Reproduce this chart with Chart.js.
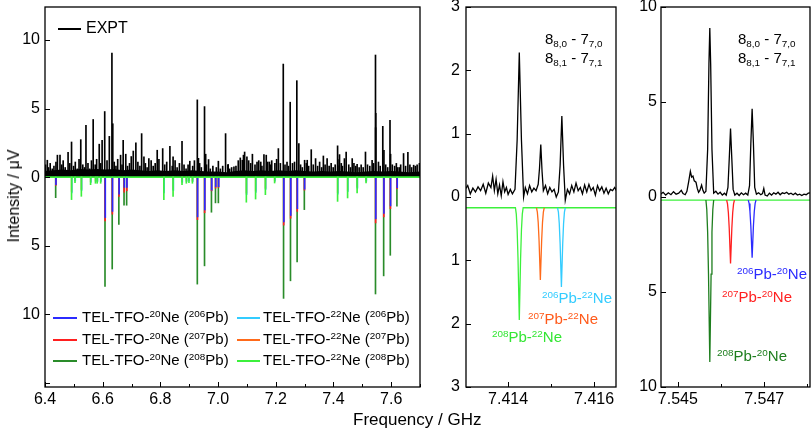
<!DOCTYPE html>
<html>
<head>
<meta charset="utf-8">
<script src="https://cdn.jsdelivr.net/npm/chart.js@4.4.1/dist/chart.umd.min.js"></script>
<style>
  body { margin: 0; background: #fff; }
  #wrap { position: relative; width: 812px; height: 432px; overflow: hidden; font-family: "Liberation Sans", Arial, sans-serif; color: #000; }
  #wrap canvas { position: absolute; top: 0; }
  .t { position: absolute; white-space: nowrap; font-size: 16px; line-height: 18px; }
  .t sup { font-size: 0.66em; vertical-align: 0.55em; line-height: 0; }
  .t sub { font-size: 0.66em; vertical-align: -0.3em; line-height: 0; }
  .iso { font-size: 15px; }
  .key { position: absolute; height: 1.5px; }
</style>
</head>
<body>
<div id="wrap">
  <canvas id="left" width="422" height="432" style="left:0px"></canvas>
  <canvas id="mid" width="188" height="432" style="left:430px"></canvas>
  <canvas id="right" width="192" height="432" style="left:620px"></canvas>

  <div class="t" style="left:14px;top:196px;width:0;height:0;">
    <span style="position:absolute;left:0;top:0;transform:translate(-50%,-50%) rotate(-90deg);">Intensity / &mu;V</span>
  </div>
  <div class="t" style="left:353px;top:411px;font-size:17px;">Frequency / GHz</div>

  <div class="key" style="left:58px;top:28px;width:23px;background:#000"></div>
  <div class="t" style="left:86px;top:19px;">EXPT</div>

  <div class="key" style="left:53px;top:317px;width:24px;background:#2b2bff"></div>
  <div class="t" style="left:82px;top:308px;font-size:15px;">TEL-TFO-<sup>20</sup>Ne (<sup>206</sup>Pb)</div>
  <div class="key" style="left:53px;top:339px;width:24px;background:#ff1f1f"></div>
  <div class="t" style="left:82px;top:330px;font-size:15px;">TEL-TFO-<sup>20</sup>Ne (<sup>207</sup>Pb)</div>
  <div class="key" style="left:53px;top:360px;width:24px;background:#2a8c2a"></div>
  <div class="t" style="left:82px;top:351px;font-size:15px;">TEL-TFO-<sup>20</sup>Ne (<sup>208</sup>Pb)</div>
  <div class="key" style="left:237px;top:317px;width:23px;background:#33ccff"></div>
  <div class="t" style="left:263px;top:308px;font-size:15px;">TEL-TFO-<sup>22</sup>Ne (<sup>206</sup>Pb)</div>
  <div class="key" style="left:237px;top:339px;width:23px;background:#ff6a1a"></div>
  <div class="t" style="left:263px;top:330px;font-size:15px;">TEL-TFO-<sup>22</sup>Ne (<sup>207</sup>Pb)</div>
  <div class="key" style="left:237px;top:360px;width:23px;background:#3cf03c"></div>
  <div class="t" style="left:263px;top:351px;font-size:15px;">TEL-TFO-<sup>22</sup>Ne (<sup>208</sup>Pb)</div>

  <div class="t" style="left:545px;top:30px;font-size:15px;">8<sub>8,0</sub> - 7<sub>7,0</sub></div>
  <div class="t" style="left:545px;top:49px;font-size:15px;">8<sub>8,1</sub> - 7<sub>7,1</sub></div>
  <div class="t" style="left:738px;top:30px;font-size:15px;">8<sub>8,0</sub> - 7<sub>7,0</sub></div>
  <div class="t" style="left:738px;top:49px;font-size:15px;">8<sub>8,1</sub> - 7<sub>7,1</sub></div>

  <div class="t iso" style="left:542px;top:289px;color:#33ccff"><sup>206</sup>Pb-<sup>22</sup>Ne</div>
  <div class="t iso" style="left:528px;top:310px;color:#ff5a1a"><sup>207</sup>Pb-<sup>22</sup>Ne</div>
  <div class="t iso" style="left:492px;top:328px;color:#33e633"><sup>208</sup>Pb-<sup>22</sup>Ne</div>

  <div class="t iso" style="left:737px;top:265px;color:#2b2bff"><sup>206</sup>Pb-<sup>20</sup>Ne</div>
  <div class="t iso" style="left:722px;top:288px;color:#ff1f1f"><sup>207</sup>Pb-<sup>20</sup>Ne</div>
  <div class="t iso" style="left:717px;top:347px;color:#1e7e1e"><sup>208</sup>Pb-<sup>20</sup>Ne</div>
</div>

<script>
// ---- overview panel: experimental lines [GHz, uV] ----
const exptLeftPeaks = [[6.408,1.23],[6.443,1.6],[6.452,1.6],[6.480,1.8],[6.492,2.56],[6.524,2.73],[6.542,3.77],[6.567,4.2],[6.588,2.4],[6.598,2.68],[6.607,4.78],[6.623,2.97],[6.632,9.04],[6.635,3.89],[6.662,1.6],[6.671,2.68],[6.680,1.67],[6.706,1.9],[6.715,2.5],[6.735,3.17],[6.743,1.47],[6.760,1.35],[6.789,1.96],[6.808,2.08],[6.833,2.25],[6.844,1.47],[6.875,2.6],[6.902,1.16],[6.928,5.63],[6.932,1.37],[6.953,5.14],[6.957,1.67],[6.967,1.28],[7.001,1.16],[7.026,3.17],[7.035,0.92],[7.055,0.75],[7.084,1.23],[7.092,1.83],[7.100,1.47],[7.119,1.67],[7.135,1.1],[7.148,1.1],[7.159,1.64],[7.167,1.6],[7.178,1.1],[7.197,1.0],[7.209,2.08],[7.226,8.24],[7.250,5.46],[7.273,7.03],[7.280,2.44],[7.300,1.23],[7.309,1.23],[7.323,2.0],[7.338,1.35],[7.365,1.54],[7.378,1.35],[7.4143,2.28],[7.4148,0.83],[7.4153,1.28],[7.421,1.64],[7.438,1.35],[7.444,1.83],[7.465,1.35],[7.482,0.94],[7.511,1.83],[7.534,1.23],[7.5457,8.9],[7.5462,3.6],[7.5467,4.65],[7.571,3.7],[7.575,1.96],[7.596,4.13],[7.598,1.67],[7.622,0.7],[7.643,1.72],[7.658,1.81],[7.678,0.87],[7.698,1.0]];
const exptLeftGrass = [[6.402,0.9],[6.412,0.7],[6.418,1.0],[6.425,0.6],[6.431,0.8],[6.438,1.1],[6.458,0.9],[6.463,1.2],[6.470,0.7],[6.486,1.0],[6.499,0.8],[6.505,1.1],[6.512,0.6],[6.518,1.3],[6.531,0.9],[6.537,0.7],[6.549,1.0],[6.555,0.6],[6.561,1.2],[6.574,0.9],[6.579,1.3],[6.593,1.0],[6.615,1.2],[6.640,1.1],[6.646,0.8],[6.652,1.3],[6.667,0.9],[6.686,0.8],[6.693,1.0],[6.699,1.5],[6.722,1.1],[6.729,0.8],[6.748,1.0],[6.754,0.7],[6.768,1.2],[6.775,0.8],[6.782,1.0],[6.795,1.3],[6.815,0.9],[6.822,1.1],[6.841,0.8],[6.851,1.2],[6.858,0.7],[6.866,1.0],[6.882,0.9],[6.889,0.6],[6.896,0.9],[6.912,0.8],[6.918,1.2],[6.936,1.0],[6.942,0.7],[6.960,0.9],[6.973,0.6],[6.982,0.8],[6.994,0.7],[7.008,0.6],[7.016,0.8],[7.034,0.9],[7.040,0.6],[7.047,0.7],[7.062,0.8],[7.070,1.2],[7.077,1.4],[7.088,1.6],[7.106,1.2],[7.113,1.0],[7.128,0.9],[7.141,1.2],[7.152,0.8],[7.172,1.1],[7.182,0.9],[7.186,1.2],[7.203,1.3],[7.216,1.0],[7.232,0.9],[7.239,1.1],[7.244,0.8],[7.258,1.0],[7.265,1.1],[7.286,0.9],[7.292,0.7],[7.306,1.0],[7.314,0.8],[7.330,0.9],[7.345,0.8],[7.352,1.1],[7.359,0.7],[7.371,0.9],[7.385,0.8],[7.392,1.0],[7.399,0.7],[7.406,0.9],[7.427,1.0],[7.431,0.8],[7.453,0.9],[7.459,0.7],[7.471,1.0],[7.477,0.8],[7.489,0.7],[7.496,0.9],[7.503,0.7],[7.518,0.9],[7.526,0.8],[7.539,1.0],[7.556,1.1],[7.562,0.8],[7.581,0.9],[7.588,0.7],[7.604,0.9],[7.612,0.8],[7.618,1.0],[7.628,0.7],[7.633,0.9],[7.650,0.8],[7.665,0.9],[7.671,0.7],[7.684,0.8],[7.690,0.9]];
const exptLeftFloor = [[6.40,0.45],[6.43,0.5],[6.46,0.55],[6.49,0.5],[6.52,0.6],[6.55,0.55],[6.58,0.6],[6.61,0.55],[6.64,0.6],[6.67,0.5],[6.70,0.55],[6.73,0.5],[6.76,0.45],[6.79,0.5],[6.82,0.45],[6.85,0.5],[6.88,0.45],[6.91,0.5],[6.94,0.45],[6.97,0.4],[7.00,0.4],[7.03,0.35],[7.06,0.45],[7.09,0.5],[7.12,0.45],[7.15,0.5],[7.18,0.45],[7.21,0.5],[7.24,0.45],[7.27,0.5],[7.30,0.45],[7.33,0.4],[7.36,0.45],[7.39,0.4],[7.42,0.45],[7.45,0.4],[7.48,0.35],[7.51,0.4],[7.54,0.45],[7.57,0.4],[7.60,0.45],[7.63,0.4],[7.66,0.35],[7.70,0.4]];

// ---- overview panel: simulated stick spectra (plotted downward) ----
const simLeft20Ne206 = [[6.438,0.55],[6.609,2.95],[6.634,2.5],[6.657,1.25],[6.675,0.75],[6.684,0.75],[6.929,2.9],[6.954,2.4],[6.978,0.95],[6.992,0.7],[7.002,0.7],[7.228,3.27],[7.252,2.8],[7.275,2.3],[7.300,0.88],[7.5467,3.04],[7.575,2.65],[7.598,2.1],[7.621,0.78]];
const simLeft20Ne207 = [[6.4375,0.6],[6.6085,3.2],[6.6335,2.7],[6.6565,1.4],[6.6745,1.1],[6.6835,1.0],[6.9285,3.1],[6.9535,2.6],[6.9775,1.0],[6.9915,0.8],[7.0015,0.75],[7.2275,3.5],[7.2515,3.0],[7.2745,2.5],[7.2995,0.95],[7.5462,3.34],[7.5745,2.9],[7.5975,2.3],[7.6205,0.85]];
const simLeft20Ne208 = [[6.437,1.5],[6.608,7.97],[6.633,6.7],[6.656,3.45],[6.674,2.05],[6.683,2.05],[6.928,7.8],[6.953,6.47],[6.977,2.56],[6.991,1.88],[7.001,1.88],[7.227,8.84],[7.251,7.56],[7.274,6.18],[7.299,2.37],[7.5457,8.52],[7.574,7.2],[7.597,5.7],[7.620,2.12]];
const simLeft22Ne206 = [[6.493,1.15],[6.505,0.28],[6.527,0.98],[6.559,0.38],[6.576,0.32],[6.582,0.32],[6.594,0.32],[6.813,1.15],[6.845,0.98],[6.876,0.38],[6.891,0.32],[6.900,0.28],[6.912,0.32],[7.099,1.28],[7.131,1.12],[7.165,0.9],[7.197,0.3],[7.4152,1.25],[7.450,1.06],[7.483,0.81],[7.514,0.3]];
const simLeft22Ne207 = [[6.4925,1.05],[6.5045,0.26],[6.5265,0.9],[6.5585,0.35],[6.5755,0.29],[6.5815,0.29],[6.5935,0.29],[6.8125,1.05],[6.8445,0.9],[6.8755,0.35],[6.8905,0.29],[6.8995,0.26],[6.9115,0.29],[7.0985,1.17],[7.1305,1.02],[7.1645,0.82],[7.1965,0.28],[7.4148,1.14],[7.4495,0.97],[7.4825,0.74],[7.5135,0.28]];
const simLeft22Ne208 = [[6.492,1.64],[6.504,0.4],[6.526,1.4],[6.558,0.55],[6.575,0.45],[6.581,0.45],[6.593,0.45],[6.812,1.64],[6.844,1.4],[6.875,0.55],[6.890,0.45],[6.899,0.4],[6.911,0.45],[7.098,1.83],[7.130,1.6],[7.164,1.28],[7.196,0.43],[7.4143,1.77],[7.449,1.52],[7.482,1.16],[7.513,0.43]];
const simLeftBaseline = [[6.4,0],[7.7,0]];

// ---- zoom 1: 8(8,K)-7(7,K) of 22Ne isotopologues ----
const exptMid = [[7.41300,0.12],[7.41306,0.18],[7.41312,0.05],[7.41318,0.14],[7.41324,0.08],[7.41330,0.16],[7.41336,0.10],[7.41342,0.20],[7.41348,0.06],[7.41354,0.22],[7.41360,0.15],[7.41364,0.33],[7.41368,0.10],[7.41372,0.28],[7.41376,0.05],[7.41380,0.19],[7.41384,0.02],[7.41388,0.24],[7.41392,0.08],[7.41396,0.15],[7.41400,0.04],[7.41405,0.12],[7.41410,0.05],[7.41416,0.12],[7.41421,0.9],[7.41426,2.28],[7.41431,0.9],[7.41436,0.0],[7.41440,0.15],[7.41445,0.05],[7.41450,0.18],[7.41455,0.08],[7.41460,0.14],[7.41465,0.1],[7.41470,0.2],[7.41473,0.45],[7.41476,0.83],[7.41479,0.4],[7.41482,0.1],[7.41487,0.18],[7.41492,0.05],[7.41497,0.15],[7.41502,0.08],[7.41507,0.12],[7.41512,0.0],[7.41517,0.08],[7.41521,0.5],[7.41525,1.28],[7.41529,0.5],[7.41533,-0.05],[7.41538,0.12],[7.41543,0.05],[7.41548,0.18],[7.41553,0.08],[7.41558,0.22],[7.41563,0.1],[7.41568,0.15],[7.41573,0.05],[7.41578,0.19],[7.41583,0.08],[7.41588,0.2],[7.41593,0.1],[7.41598,0.15],[7.41603,0.03],[7.41608,0.18],[7.41613,0.1],[7.41618,0.16],[7.41623,0.06],[7.41628,0.14],[7.41633,0.05],[7.41638,0.12],[7.41643,0.1],[7.41648,0.15],[7.41652,0.1]];
const simMidOffset = -0.17;
const simMid22Ne206 = [[7.41515,0],[7.41517,-0.07],[7.41519,-0.25],[7.41521,-0.57],[7.41524,-1.25],[7.41527,-0.57],[7.41529,-0.25],[7.41531,-0.07],[7.41533,0]];
const simMid22Ne207 = [[7.41466,0],[7.41468,-0.07],[7.41470,-0.23],[7.41472,-0.52],[7.41475,-1.14],[7.41478,-0.52],[7.41480,-0.23],[7.41482,-0.07],[7.41484,0]];
const simMid22Ne208 = [[7.41300,0],[7.41417,0],[7.41419,-0.1],[7.41421,-0.35],[7.41423,-0.8],[7.41426,-1.77],[7.41429,-0.8],[7.41431,-0.35],[7.41433,-0.1],[7.41435,0],[7.41652,0]];

// ---- zoom 2: 8(8,K)-7(7,K) of 20Ne isotopologues ----
const exptRight = [[7.54460,0.15],[7.54466,0.25],[7.54472,0.10],[7.54478,0.22],[7.54484,0.12],[7.54490,0.28],[7.54496,0.15],[7.54502,0.20],[7.54508,0.35],[7.54512,0.18],[7.54517,0.12],[7.54521,0.30],[7.54525,0.80],[7.54529,1.35],[7.54532,1.05],[7.54535,1.10],[7.54538,0.85],[7.54542,0.78],[7.54545,0.45],[7.54548,0.25],[7.54551,0.35],[7.54555,0.63],[7.54558,0.35],[7.54561,0.2],[7.54565,0.3],[7.54569,2.5],[7.54572,7.0],[7.54574,8.9],[7.54576,7.0],[7.54579,2.5],[7.54583,0.2],[7.54588,0.3],[7.54593,0.15],[7.54598,0.25],[7.54603,0.1],[7.54608,0.2],[7.54612,0.1],[7.54616,0.5],[7.54619,2.0],[7.54622,3.6],[7.54625,2.0],[7.54628,0.4],[7.54632,0.1],[7.54637,0.2],[7.54642,0.08],[7.54647,0.22],[7.54652,0.12],[7.54657,0.2],[7.54662,0.1],[7.54666,0.6],[7.54669,2.8],[7.54672,4.65],[7.54675,2.8],[7.54678,0.5],[7.54682,0.15],[7.54687,0.22],[7.54692,0.12],[7.54696,0.18],[7.54699,0.45],[7.54702,0.1],[7.54707,0.05],[7.54712,0.2],[7.54717,0.1],[7.54722,0.22],[7.54727,0.15],[7.54732,0.25],[7.54737,0.12],[7.54742,0.22],[7.54747,0.18],[7.54752,0.25],[7.54757,0.15],[7.54762,0.2],[7.54767,0.12],[7.54772,0.2],[7.54777,0.1],[7.54782,0.15],[7.54787,0.08],[7.54792,0.15],[7.54797,0.12],[7.54802,0.2],[7.54806,0.22]];
const simRightOffset = -0.16;
const simRight20Ne206 = [[7.54663,0],[7.54665,-0.18],[7.54667,-0.6],[7.54669,-1.37],[7.54672,-3.04],[7.54675,-1.37],[7.54677,-0.6],[7.54679,-0.18],[7.54681,0]];
const simRight20Ne207 = [[7.54613,0],[7.54615,-0.2],[7.54617,-0.67],[7.54619,-1.5],[7.54622,-3.34],[7.54625,-1.5],[7.54627,-0.67],[7.54629,-0.2],[7.54631,0]];
const simRight20Ne208 = [[7.54565,0],[7.54567,-0.5],[7.54569,-1.7],[7.54571,-3.9],[7.54574,-8.52],[7.54577,-3.9],[7.54579,-1.7],[7.54581,-0.5],[7.54583,0]];
const simRightBaseline = [[7.54461,0],[7.54806,0]];

const COL = {
  ne20_206: '#2b2bff', ne20_207: '#ff1f1f', ne20_208: '#2a8c2a',
  ne22_206: '#33ccff', ne22_207: '#ff6a1a', ne22_208: '#3cf03c'
};

Chart.defaults.font.family = "'Liberation Sans', Arial, sans-serif";
Chart.defaults.font.size = 16;
Chart.defaults.color = '#000';
Chart.defaults.elements.point.radius = 0;
Chart.defaults.animation = false;

const toXY = (pairs, sign = 1, off = 0) => pairs.map(([f, v]) => ({ x: f, y: sign * v + off }));

const sticks = (pairs, color, sign, order = 0) => ({
  type: 'bar', data: toXY(pairs, sign), backgroundColor: color,
  barThickness: 1, grouped: false, borderWidth: 0, order
});
const trace = (pairs, color, off = 0, order = 0, width = 1.3) => ({
  type: 'line', data: toXY(pairs, 1, off), borderColor: color,
  borderWidth: width, tension: 0, fill: false, order
});

// box frame and inward tick marks
const framePlugin = {
  id: 'frame',
  afterDraw(chart) {
    const { ctx, chartArea: a, scales } = chart;
    ctx.save();
    ctx.strokeStyle = '#000';
    ctx.lineWidth = 1.3;
    ctx.strokeRect(a.left, a.top, a.right - a.left, a.bottom - a.top);
    ctx.lineWidth = 1;
    ctx.beginPath();
    scales.x.ticks.forEach(t => {
      const px = Math.round(scales.x.getPixelForValue(t.value)) + 0.5;
      const len = t.label ? 5 : 3;
      ctx.moveTo(px, a.bottom); ctx.lineTo(px, a.bottom - len);
    });
    scales.y.ticks.forEach(t => {
      const py = Math.round(scales.y.getPixelForValue(t.value)) + 0.5;
      ctx.moveTo(a.left, py); ctx.lineTo(a.left + 5, py);
    });
    ctx.stroke();
    ctx.restore();
  }
};

function panelOptions(p) {
  return {
    responsive: false,
    events: [],
    layout: { padding: { top: 7, right: p.padRight, left: 0, bottom: 0 } },
    plugins: { legend: { display: false }, tooltip: { enabled: false } },
    scales: {
      x: {
        type: 'linear', min: p.xmin, max: p.xmax, offset: false,
        grid: { display: false, drawTicks: false }, border: { display: false },
        ticks: { stepSize: p.xstep, includeBounds: false, maxRotation: 0, autoSkip: false, padding: 3, callback: p.xlabel },
        afterFit: s => { s.height = 45; s.paddingLeft = 0; s.paddingRight = 0; }
      },
      y: {
        min: p.ymin, max: p.ymax,
        grid: { display: false, drawTicks: false }, border: { display: false },
        ticks: { stepSize: p.ystep, includeBounds: false, padding: p.yPad, callback: p.ylabel },
        afterFit: s => { s.width = p.yWidth; s.paddingTop = 0; s.paddingBottom = 0; }
      }
    }
  };
}

new Chart(document.getElementById('left'), {
  type: 'bar',
  data: {
    datasets: [
      sticks(simLeft20Ne206, COL.ne20_206, -1),
      sticks(simLeft20Ne207, COL.ne20_207, -1),
      sticks(simLeft20Ne208, COL.ne20_208, -1),
      sticks(simLeft22Ne206, COL.ne22_206, -1),
      sticks(simLeft22Ne207, COL.ne22_207, -1),
      sticks(simLeft22Ne208, COL.ne22_208, -1, -1),
      sticks(exptLeftPeaks, '#000', 1),
      sticks(exptLeftGrass, '#000', 1),
      { type: 'line', data: toXY(exptLeftFloor), borderWidth: 0, borderColor: '#000', backgroundColor: '#000', fill: 'origin', tension: 0 },
      trace(simLeftBaseline, COL.ne22_208, 0, -2, 1.6)
    ]
  },
  options: panelOptions({
    xmin: 6.4, xmax: 7.7, xstep: 0.1,
    xlabel: v => { const k = Math.round(v * 10); return k % 2 === 0 ? (k / 10).toFixed(1) : ''; },
    ymin: -15.3, ymax: 12.4, ystep: 5,
    ylabel: v => Math.round(v) === -15 ? '' : Math.abs(Math.round(v)),
    yWidth: 45, yPad: 5, padRight: 2
  }),
  plugins: [framePlugin]
});

new Chart(document.getElementById('mid'), {
  type: 'line',
  data: {
    datasets: [
      trace(exptMid, '#000'),
      trace(simMid22Ne206, COL.ne22_206, simMidOffset),
      trace(simMid22Ne207, COL.ne22_207, simMidOffset),
      trace(simMid22Ne208, COL.ne22_208, simMidOffset)
    ]
  },
  options: panelOptions({
    xmin: 7.41302, xmax: 7.41651, xstep: 0.001,
    xlabel: v => { const k = Math.round(v * 1000); return k % 2 === 0 ? (k / 1000).toFixed(3) : ''; },
    ymin: -3, ymax: 3, ystep: 1,
    ylabel: v => Math.abs(Math.round(v)),
    yWidth: 36, yPad: 6, padRight: 2
  }),
  plugins: [framePlugin]
});

new Chart(document.getElementById('right'), {
  type: 'line',
  data: {
    datasets: [
      trace(exptRight, '#000'),
      trace(simRight20Ne206, COL.ne20_206, simRightOffset),
      trace(simRight20Ne207, COL.ne20_207, simRightOffset),
      trace(simRight20Ne208, '#1e7e1e', simRightOffset),
      trace(simRightBaseline, COL.ne22_208, simRightOffset)
    ]
  },
  options: panelOptions({
    xmin: 7.54461, xmax: 7.54806, xstep: 0.001,
    xlabel: v => { const k = Math.round(v * 1000); return k % 2 === 1 ? (k / 1000).toFixed(3) : ''; },
    ymin: -10, ymax: 10, ystep: 5,
    ylabel: v => Math.abs(Math.round(v)),
    yWidth: 41, yPad: 4, padRight: 2
  }),
  plugins: [framePlugin]
});
</script>
</body>
</html>
